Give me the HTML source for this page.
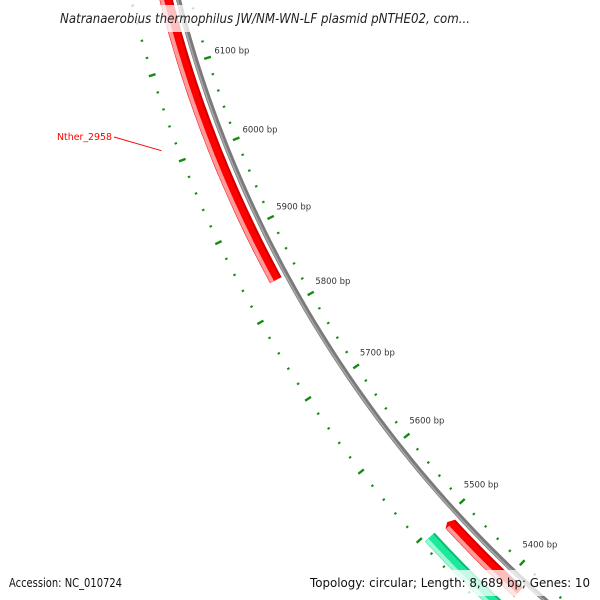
<!DOCTYPE html>
<html><head><meta charset="utf-8"><style>
html,body{margin:0;background:#fff;width:600px;height:600px;overflow:hidden;}
svg{display:block;font-family:"DejaVu Sans","Liberation Sans",sans-serif;overflow:hidden;}
</style></head><body>
<svg id="map" width="600" height="600" viewBox="0 0 600 600" xmlns="http://www.w3.org/2000/svg">
<rect width="600" height="600" fill="#fff"/>
<g id="rings"></g>
<rect x="0" y="5" width="600" height="27" fill="#fff" fill-opacity="0.75"/>
<text x="60" y="23" font-size="13" font-style="italic" fill="#222" textLength="410" lengthAdjust="spacingAndGlyphs">Natranaerobius thermophilus JW/NM-WN-LF plasmid pNTHE02, com...</text>
<rect x="0" y="570" width="600" height="26" fill="#fff" fill-opacity="0.75"/>
<text x="9" y="587" font-size="12.5" fill="#111" textLength="113" lengthAdjust="spacingAndGlyphs">Accession: NC_010724</text>
<text x="310" y="587" font-size="12.5" fill="#111" textLength="280" lengthAdjust="spacingAndGlyphs">Topology: circular; Length: 8,689 bp; Genes: 10</text>
</svg>
<script>
const seqLength = 8689;
const majorTicks = [5300,5400,5500,5600,5700,5800,5900,6000,6100,6200,6300];
const tickLabels = ["5300 bp","5400 bp","5500 bp","5600 bp","5700 bp","5800 bp","5900 bp","6000 bp","6100 bp","6200 bp","6300 bp"];
const geneStarts = [5833, 5380, 5300];
const geneEnds = [6500, 5490, 5495];
const geneStrands = [1, 1, -1];
const geneNames = ["Nther_2958", "", ""];

const CX = 1341, CY = -298, A0 = 162.57, BP0 = 6100;
const NS = "http://www.w3.org/2000/svg";
const g = document.getElementById('rings');
function ang(bp){ return (A0 + (bp - BP0) * 360 / seqLength) * Math.PI / 180; }
function pt(r, bp){ const a = ang(bp); return [CX + r*Math.cos(a), CY + r*Math.sin(a)]; }
function mk(tag, attrs){ const e = document.createElementNS(NS, tag); for (const k in attrs) e.setAttribute(k, attrs[k]); g.appendChild(e); return e; }
function arcPts(r, b1, b2){ const p=[]; const n=80; for(let i=0;i<=n;i++){ p.push(pt(r, b1+(b2-b1)*i/n)); } return p; }
function arc(r, b1, b2, w, col){
  const p = arcPts(r,b1,b2);
  return mk('polyline', {points: p.map(q=>q[0].toFixed(1)+','+q[1].toFixed(1)).join(' '), fill:'none', stroke:col, 'stroke-width':w});
}
let e = arc(1200, 5200, 6400, 5, '#7a7a7a');


e = arc(1201, 5200, 6400, 1.5, '#a8a8a8');



for (let i=0;i<geneStarts.length;i++){
  const fwd = geneStrands[i] > 0;
  const rc = fwd ? 1212 : 1236, w = 13;
  const col = fwd ? '#ff0000' : '#1de99b';
  const light = fwd ? '#ff9a9a' : '#9cf7d2';
  const dark = fwd ? '#d00000' : '#10b87a';
  let s = geneStarts[i], en = geneEnds[i];
  let pts = arcPts(rc + w/2, s, en).concat(arcPts(rc - w/2, en, s));
  if (fwd && i===1){
    const tip = pt(rc + 1, en + 4);
    pts = arcPts(rc + w/2, s, en).concat([tip]).concat(arcPts(rc - w/2, en, s));
  }
  e = mk('polygon', {points: pts.map(q=>q[0].toFixed(1)+','+q[1].toFixed(1)).join(' '), fill: col});
  
  
  e = arc(rc + w/2 - 2.5, s, en - 0.5, 4, light);
  
  
  e = arc(rc - w/2 + 1, s, en - 0.5, 2, dark);
  
  
}

for (let bp = 5200; bp <= 6400; bp += 20){
  const major = (bp % 100 === 0);
  const L = major ? 7 : 2.5, W = major ? 2.4 : 2;
  [1188, 1246].forEach(function(r){
    const a = pt(r - L/2, bp), b = pt(r + L/2, bp);
    const t = mk('line', {x1:a[0], y1:a[1], x2:b[0], y2:b[1], stroke:'#148c14', 'stroke-width':W});
    
    
  });
}
for (let i=0;i<majorTicks.length;i++){
  const p = pt(1163, majorTicks[i]);
  if (p[1] > 580 || p[1] < 0) continue;
  const t = mk('text', {x:(p[0]-17).toFixed(1), y:(p[1]+3).toFixed(1), 'font-size':'8.5', fill:'#333', textLength:'35', lengthAdjust:'spacingAndGlyphs'});
  t.textContent = tickLabels[i];
  
  
}
const lp = pt(1262, 6018);
e = mk('line', {x1:114, y1:137, x2:lp[0].toFixed(1), y2:lp[1].toFixed(1), stroke:'#ff0000', 'stroke-width':1});


e = mk('text', {x:57, y:140, 'font-size':'9.5', fill:'#ff0000', textLength:'55', lengthAdjust:'spacingAndGlyphs'});
e.textContent = geneNames[0];


</script>
</body></html>
